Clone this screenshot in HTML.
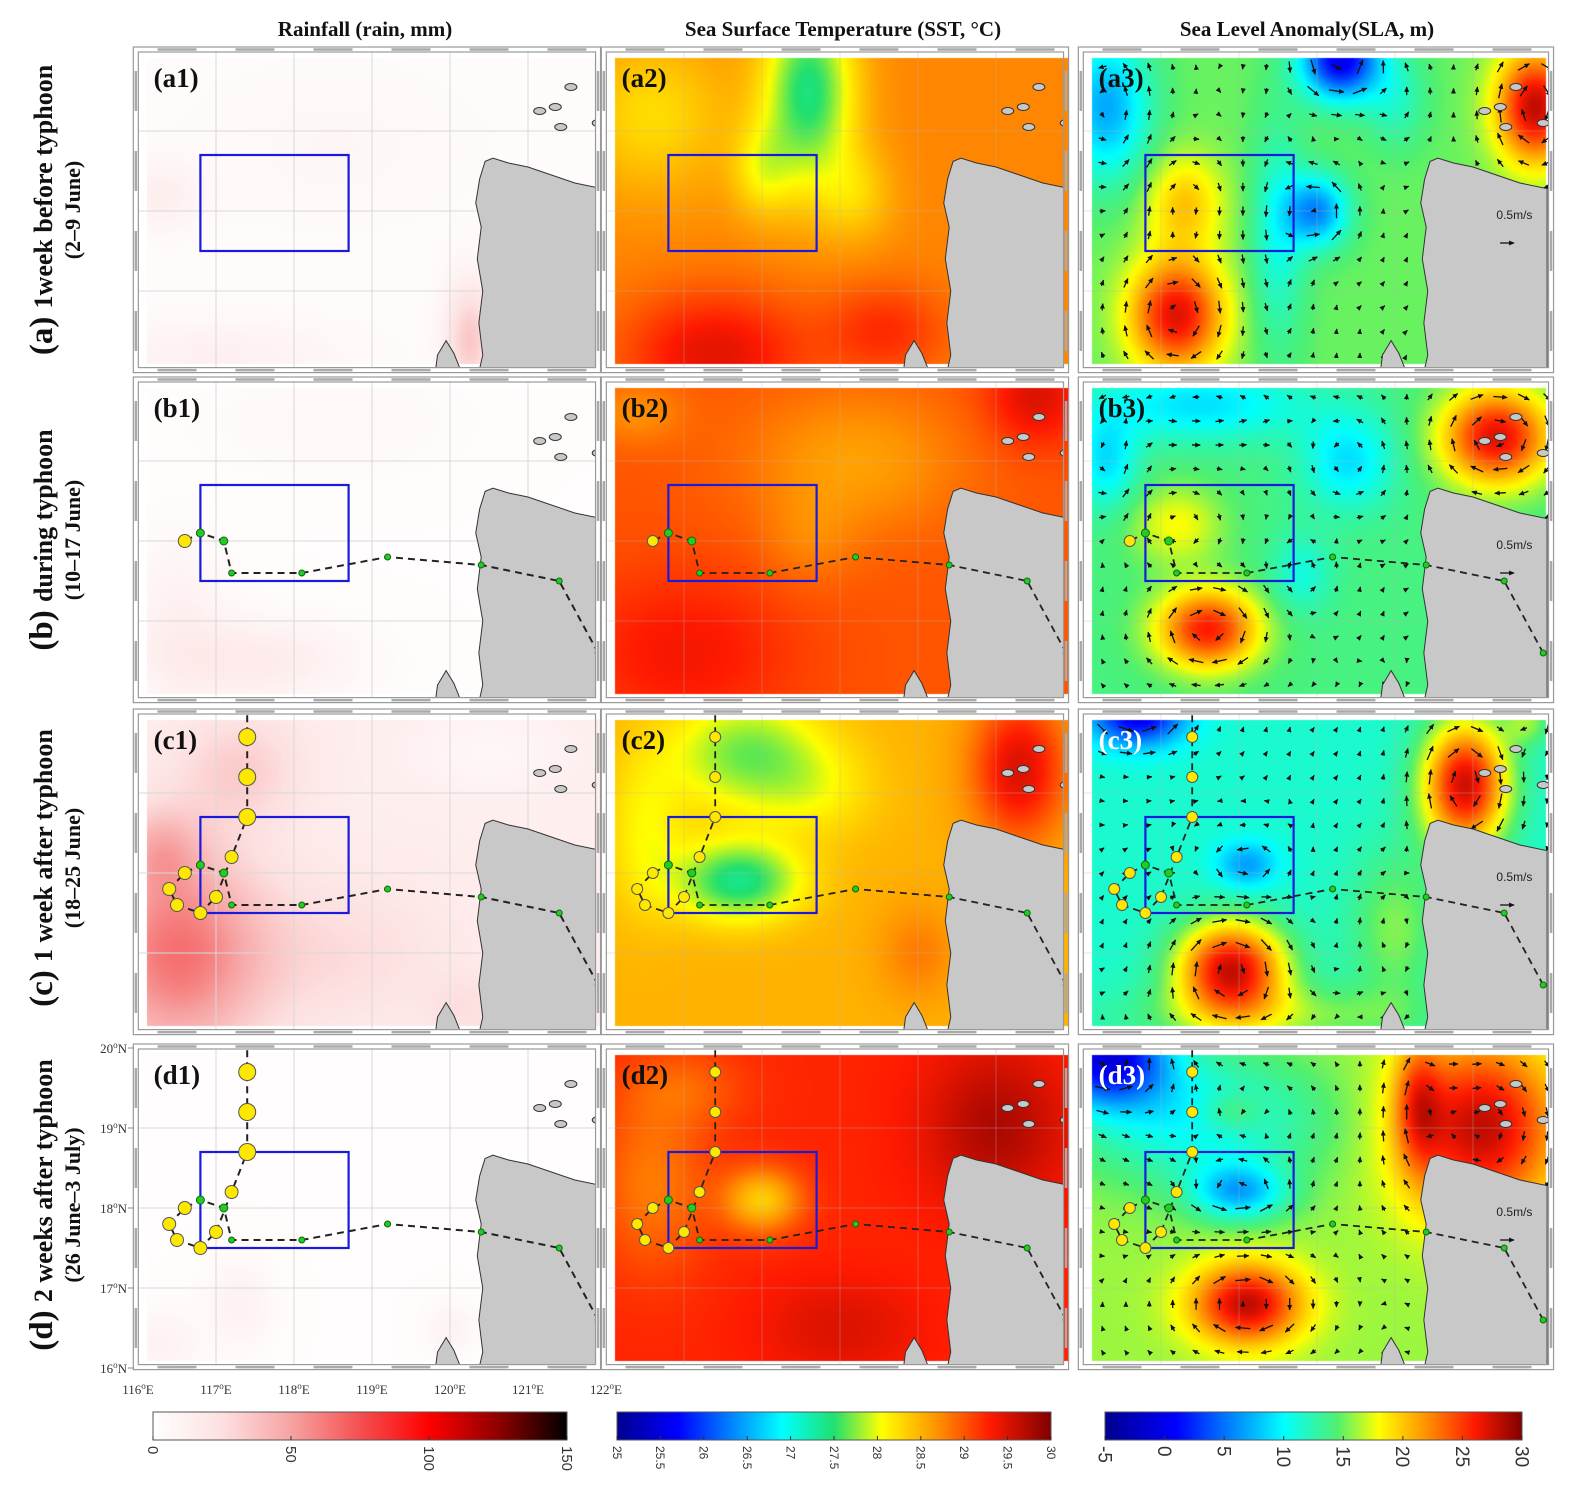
<!DOCTYPE html>
<html><head><meta charset="utf-8">
<style>
html,body{margin:0;padding:0;background:#fff;}
#wrap{position:relative;width:1578px;height:1489px;overflow:hidden;}
#fld{position:absolute;left:0;top:0;}
#ov{position:absolute;left:0;top:0;}
text{font-family:"Liberation Serif",serif;}
</style></head>
<body>
<div id="wrap">
<canvas id="fld" width="1578" height="1489"></canvas>
<svg id="ov" width="1578" height="1489" xmlns="http://www.w3.org/2000/svg">
<defs>
<marker id="ah" markerWidth="6" markerHeight="6" refX="5" refY="3" orient="auto" markerUnits="userSpaceOnUse"><path d="M0,0.5 L5.5,3 L0,5.5 z" fill="#111"/></marker>
</defs>
<g id="layer"></g>
</svg>
</div>
<script>
// ---------- data ----------
const colX0 = [138, 606, 1083];
const rowY0 = [51, 381, 713, 1048];
const columnTitles = ["Rainfall (rain, mm)", "Sea Surface Temperature (SST, \u00B0C)", "Sea  Level Anomaly(SLA, m)"];
const rowTitles = ["1week before typhoon", "during typhoon", "1 week after typhoon", "2 weeks after typhoon"];
const rowLetters = ["(a)", "(b)", "(c)", "(d)"];
const rowDates = ["(2\u20139 June)", "(10\u201317 June)", "(18\u201325 June)", "(26 June\u20133 July)"];
const lonTicks = [116, 117, 118, 119, 120, 121, 122];
const latTicks = [16, 17, 18, 19, 20];
const rainTicks = [0, 50, 100, 150];
const sstTicks = [25, 25.5, 26, 26.5, 27, 27.5, 28, 28.5, 29, 29.5, 30];
const slaTicks = [-5, 0, 5, 10, 15, 20, 25, 30];
// typhoon track (east -> west -> north)
const trackLon = [121.9, 121.4, 120.4, 119.2, 118.1, 117.2, 117.1, 116.8, 116.6, 116.4, 116.5, 116.8, 117.0, 117.2, 117.4, 117.4, 117.4];
const trackLat = [16.6, 17.5, 17.7, 17.8, 17.6, 17.6, 18.0, 18.1, 18.0, 17.8, 17.6, 17.5, 17.7, 18.2, 18.7, 19.2, 19.7];
const trackKind = ["g","g","g","g","g","g","g","g","y","y","y","y","y","y","y","y","y"];
const trackCount = [0, 9, 17, 17];
// study box
const boxLon = [116.8, 118.7];
const boxLat = [17.5, 18.7];
// field bases: index col*4+row
const fieldBase = [3, 2, 14, 2, 28.75, 29.0, 28.5, 29.25, 15, 14, 11.5, 16];
// blobs: [lon, lat, sx, sy, amplitude]
const blobs0 = [[120.25,16.4,0.3,0.7,32],[116.3,18.2,0.5,0.4,10],[117.0,16.2,1.5,0.4,9],[118.5,18.8,1.5,0.8,4]];
const blobs1 = [[117.5,16.5,1.2,0.5,14],[116.5,17.0,0.6,1.0,9],[118.5,19.5,1.5,0.6,4]];
const blobs2 = [[116.5,17.0,1.1,1.3,50],[117.3,19.3,0.8,0.7,18],[118.6,17.0,1.4,0.9,12],[116.3,18.3,0.5,0.5,20],[120.2,16.3,0.5,0.4,10],[120.5,19.5,1.0,0.5,-8]];
const blobs3 = [[117.3,16.8,0.4,0.5,9],[120.0,16.5,0.3,0.3,8],[116.3,16.3,0.5,0.4,8]];
const blobs4 = [[118.6,19.5,0.6,1.2,-1.3],[118.0,18.5,0.4,0.6,-0.5],[116.6,19.2,1.0,1.0,-0.5],[117.4,16.2,1.2,0.8,0.7],[119.6,16.5,0.8,0.6,0.45],[119.2,18.2,0.5,0.6,-0.4]];
const blobs5 = [[117.0,16.6,1.4,1.0,0.35],[121.5,19.8,0.6,0.6,0.5],[119.2,19.0,1.4,0.9,-0.4],[118.6,18.0,0.6,0.6,-0.2],[116.4,19.6,0.6,0.4,-0.3]];
const blobs6 = [[117.7,17.9,0.8,0.5,-1.1],[117.8,19.5,1.0,0.7,-0.8],[121.3,19.3,0.6,0.9,1.0],[120.0,17.0,0.5,0.6,0.3],[116.5,18.5,0.5,1.0,-0.4],[118.7,19.0,0.8,0.6,-0.3]];
const blobs7 = [[118.0,18.1,0.5,0.4,-0.9],[116.6,18.3,0.7,1.1,-0.45],[117.0,19.5,0.8,0.5,-0.3],[121.0,19.0,0.9,1.0,0.5],[119.0,16.5,1.0,0.6,0.25]];
const blobs8 = [[119.3,19.9,0.5,0.5,-15],[119.0,18.0,0.4,0.45,-9],[116.3,19.3,0.55,0.9,-8],[117.2,16.7,0.6,0.7,12],[117.3,18.1,0.5,0.6,5],[121.8,19.3,0.5,0.7,13],[118.5,17.7,0.35,1.4,-4],[120.0,19.4,0.4,0.6,-3]];
const blobs9 = [[117.5,19.7,1.4,0.45,-5],[119.4,19.0,0.6,0.6,-5],[117.6,16.9,0.65,0.5,12],[121.3,19.3,0.7,0.6,13],[117.2,18.2,0.6,0.5,4],[118.8,17.6,0.4,0.5,-3],[116.3,19.0,0.4,0.6,-5]];
const blobs10 = [[116.7,20.0,0.6,0.4,-12],[118.1,18.1,0.4,0.3,-5],[117.9,16.8,0.7,0.6,16],[120.9,19.1,0.55,0.8,16],[118.5,16.2,2.0,0.4,4],[120.0,17.3,0.6,1.0,4],[121.7,19.9,0.3,0.3,4]];
const blobs11 = [[116.3,19.9,0.8,0.6,-16],[117.5,19.1,1.5,0.8,-6],[118.0,18.2,0.6,0.35,-8],[118.1,16.8,0.7,0.5,12],[121.1,19.0,1.0,1.1,12],[120.3,19.3,0.3,0.8,6],[117.9,19.2,0.4,0.25,3]];
const allBlobs = [blobs0,blobs1,blobs2,blobs3,blobs4,blobs5,blobs6,blobs7,blobs8,blobs9,blobs10,blobs11];
// land outline (lon, lat)
const landLon = [120.45,120.55,120.75,121.0,121.3,121.6,121.95,121.95,120.35,120.42,120.37,120.42,120.35,120.4,120.33,120.38];
const landLat = [18.62,18.66,18.6,18.55,18.45,18.35,18.28,15.9,15.9,16.2,16.6,17.0,17.4,17.8,18.1,18.4];
const penLon = [119.8,119.84,119.95,120.05,120.12,120.15];
const penLat = [15.9,16.2,16.38,16.22,16.05,15.9];
const islandLon = [121.55,121.35,121.42,121.9,121.15];
const islandLat = [19.55,19.3,19.05,19.1,19.25];

// colormaps
const rainStops = [[0,"#ffffff"],[25,"#fde0e0"],[50,"#f7a3a3"],[75,"#f45050"],[100,"#ff0000"],[125,"#900000"],[150,"#000000"]];
const sstStops = [[25,"#00008f"],[25.7,"#0000ff"],[26.9,"#00ffff"],[27.5,"#20e070"],[28.05,"#ffff00"],[28.7,"#ff9000"],[29.3,"#ff1a00"],[30,"#800000"]];
const slaStops = [[-5,"#00008f"],[1,"#0000ff"],[10,"#00ffff"],[14.5,"#50f070"],[18,"#ffff00"],[22,"#ff9000"],[26,"#ff1a00"],[30,"#800000"]];
const cmaps = [rainStops, sstStops, slaStops];

// ---------- helpers ----------
const NS = "http://www.w3.org/2000/svg";
const layer = document.getElementById("layer");
function X(c, lon){ return colX0[c] + (lon-116)*78; }
function Y(r, lat){ return rowY0[r] + (20-lat)*80; }
function mk(tag, attrs, parent){ const e=document.createElementNS(NS,tag); for(const k in attrs) e.setAttribute(k,attrs[k]); (parent||layer).appendChild(e); return e; }
function hex(h){ return [parseInt(h.substr(1,2),16),parseInt(h.substr(3,2),16),parseInt(h.substr(5,2),16)]; }
function cmap(stops, v){
  if(v<=stops[0][0]) return hex(stops[0][1]);
  for(let i=1;i<stops.length;i++){
    if(v<=stops[i][0]){ const t=(v-stops[i-1][0])/(stops[i][0]-stops[i-1][0]); const a=hex(stops[i-1][1]), b=hex(stops[i][1]);
      return [a[0]+(b[0]-a[0])*t, a[1]+(b[1]-a[1])*t, a[2]+(b[2]-a[2])*t]; }
  }
  return hex(stops[stops.length-1][1]);
}
function fieldVal(p, lon, lat){
  let v = fieldBase[p];
  for(const b of allBlobs[p]){ const dx=(lon-b[0])/b[2], dy=(lat-b[1])/b[3]; v += b[4]*Math.exp(-(dx*dx+dy*dy)); }
  return v;
}
function inPoly(lon, lat, xs, ys){
  let ins=false;
  for(let i=0,j=xs.length-1;i<xs.length;j=i++){
    if(((ys[i]>lat)!==(ys[j]>lat)) && (lon < (xs[j]-xs[i])*(lat-ys[i])/(ys[j]-ys[i])+xs[i])) ins=!ins;
  }
  return ins;
}

// ---------- fields on canvas ----------
const ctx = document.getElementById("fld").getContext("2d");
const LON0=116.12, LON1=121.93, LAT0=16.09, LAT1=19.91;
for(let c=0;c<3;c++) for(let r=0;r<4;r++){
  const p=c*4+r, GW=116, GH=76;
  const off=document.createElement("canvas"); off.width=GW; off.height=GH;
  const oc=off.getContext("2d"); const img=oc.createImageData(GW,GH);
  for(let j=0;j<GH;j++) for(let i=0;i<GW;i++){
    const lon=LON0+(i+0.5)/GW*(LON1-LON0), lat=LAT1-(j+0.5)/GH*(LAT1-LAT0);
    const col=cmap(cmaps[c], fieldVal(p,lon,lat)); const k=(j*GW+i)*4;
    img.data[k]=col[0]; img.data[k+1]=col[1]; img.data[k+2]=col[2]; img.data[k+3]=255;
  }
  oc.putImageData(img,0,0);
  ctx.imageSmoothingEnabled=true;
  const x0=X(c,LON0), y0=Y(r,LAT1);
  ctx.drawImage(off, x0, y0, X(c,LON1)-x0, Y(r,LAT0)-y0);
}

// ---------- headers ----------
const headX=[365, 843, 1307];
for(let c=0;c<3;c++){
  const t=mk("text",{x:headX[c],y:36,"text-anchor":"middle","font-size":"21","font-weight":"bold",fill:"#111"});
  
  
  t.textContent=columnTitles[c];
}
// row titles
const rowCy=[210, 540, 868, 1205];
for(let r=0;r<4;r++){
  const g=mk("g",{transform:"translate(0,"+rowCy[r]+") rotate(-90)"});
  
  
  const t1=mk("text",{x:0,y:52,"text-anchor":"middle","font-size":"26","font-weight":"bold",fill:"#111"},g);
  const s=mk("tspan",{"font-size":"33"},t1); s.textContent=rowLetters[r]+" ";
  const s2=mk("tspan",{},t1); s2.textContent=rowTitles[r];
  const t2=mk("text",{x:0,y:80,"text-anchor":"middle","font-size":"22","font-weight":"bold",fill:"#111"},g);
  t2.textContent=rowDates[r];
}

// ---------- panels ----------
for(let c=0;c<3;c++) for(let r=0;r<4;r++){
  const p=c*4+r;
  const g=mk("g",{});
  
  
  const fx0=X(c,115.94), fx1=X(c,121.93)+(c==2?8:0), fy0=Y(r,20.05), fy1=Y(r,15.98);
  const cid="clip"+p;
  const cp=mk("clipPath",{id:cid},g); mk("rect",{x:fx0+5,y:fy0+5,width:fx1-fx0-10,height:fy1-fy0-10},cp);
  const inner=mk("g",{"clip-path":"url(#"+cid+")"},g);
  for(const lo of lonTicks) mk("line",{x1:X(c,lo),x2:X(c,lo),y1:fy0,y2:fy1,stroke:c==0?"#d8d8d8":"rgba(180,180,180,0.35)","stroke-width":1},inner);
  for(const la of latTicks) mk("line",{x1:fx0,x2:fx1,y1:Y(r,la),y2:Y(r,la),stroke:c==0?"#d8d8d8":"rgba(180,180,180,0.35)","stroke-width":1},inner);
  if(c==2){
    const ag=mk("g",{},inner);
    
    
    for(let lo=116.25; lo<121.95; lo+=0.3) for(let la=16.2; la<20.0; la+=0.3){
      if(inPoly(lo,la,landLon,landLat)) continue;
      const h=0.05;
      const dEx=(fieldVal(p,lo+h,la)-fieldVal(p,lo-h,la))/(2*h);
      const dNy=(fieldVal(p,lo,la+h)-fieldVal(p,lo,la-h))/(2*h);
      const u=-dNy, v=dEx; const m=Math.sqrt(u*u+v*v)+1e-6;
      const L=Math.min(15, 4+m*0.55);
      const cx=X(c,lo), cy=Y(r,la);
      const dx=u/m*L/2, dy=-v/m*L/2;
      mk("line",{x1:cx-dx,y1:cy-dy,x2:cx+dx,y2:cy+dy,stroke:"#111","stroke-width":1.3,"marker-end":"url(#ah)"},ag);
    }
  }
  const pts=landLon.map((lo,i)=>X(c,lo)+","+Y(r,landLat[i])).join(" ");
  const land=mk("polygon",{points:pts,fill:"#c8c8c8",stroke:"#333","stroke-width":1},inner);
  
  
  mk("polygon",{points:penLon.map((lo,i)=>X(c,lo)+","+Y(r,penLat[i])).join(" "),fill:"#c8c8c8",stroke:"#333","stroke-width":1},inner);
  for(let i=0;i<islandLon.length;i++) mk("ellipse",{cx:X(c,islandLon[i]),cy:Y(r,islandLat[i]),rx:6,ry:3.5,fill:"#c8c8c8",stroke:"#333","stroke-width":1},inner);
  const bx=mk("rect",{x:X(c,boxLon[0]),y:Y(r,boxLat[1]),width:X(c,boxLon[1])-X(c,boxLon[0]),height:Y(r,boxLat[0])-Y(r,boxLat[1]),fill:"none",stroke:"#1a1adc","stroke-width":2.2},inner);
  
  
  if(c==2){
    const t=mk("text",{x:X(c,121.3),y:Y(r,17.9),"font-size":"12",fill:"#222"},inner);
    
    
    t.setAttribute("style","font-family:'Liberation Sans',sans-serif");
    t.textContent="0.5m/s";
    mk("line",{x1:X(c,121.45)-8,y1:Y(r,17.6),x2:X(c,121.45)+6,y2:Y(r,17.6),stroke:"#111","stroke-width":1.3,"marker-end":"url(#ah)"},inner);
  }
  const n=trackCount[r];
  if(n>0){
    const tg=mk("g",{},inner);
    
    
    let d="";
    for(let i=0;i<n;i++) d+=(i?"L":"M")+X(c,trackLon[i])+","+Y(r,trackLat[i]);
    if(n==17) d+="L"+X(c,117.4)+","+Y(r,20.05);
    mk("path",{d:d,fill:"none",stroke:"#222","stroke-width":c==0?2:1.8,"stroke-dasharray":"7 5"},tg);
    for(let i=0;i<n;i++){
      const y=trackKind[i]=="y";
      let rad = y ? (c==0 ? (i>=14?8.5:6.5) : 5.5) : (i>=6 && i<=7 ? 4 : 3);
      const cc=mk("circle",{cx:X(c,trackLon[i]),cy:Y(r,trackLat[i]),r:rad,fill:y?"#ffe800":"#22cc22",stroke:y?"#555":"#116611","stroke-width":1},tg);
      
      
    }
  }
  mk("rect",{x:fx0,y:fy0,width:fx1-fx0,height:fy1-fy0,fill:"none",stroke:"#999","stroke-width":1.2},g);
  mk("rect",{x:fx0+5,y:fy0+5,width:fx1-fx0-10,height:fy1-fy0-10,fill:"none",stroke:"#999","stroke-width":1.2},g);
  for(let lo=116.5;lo<122;lo+=1){ mk("line",{x1:X(c,lo-0.25),x2:X(c,lo+0.25),y1:fy0+2.5,y2:fy0+2.5,stroke:"#aaa","stroke-width":2.5},g); mk("line",{x1:X(c,lo-0.25),x2:X(c,lo+0.25),y1:fy1-2.5,y2:fy1-2.5,stroke:"#aaa","stroke-width":2.5},g); }
  for(let la=16.5;la<20;la+=1){ mk("line",{x1:fx0+2.5,x2:fx0+2.5,y1:Y(r,la+0.25),y2:Y(r,la-0.25),stroke:"#aaa","stroke-width":2.5},g); mk("line",{x1:fx1-2.5,x2:fx1-2.5,y1:Y(r,la+0.25),y2:Y(r,la-0.25),stroke:"#aaa","stroke-width":2.5},g); }
  const lab=mk("text",{x:X(c,116.2),y:Y(r,19.55),"font-size":"27","font-weight":"bold",fill:(c==2&&r>=2)?"#fff":"#111"},g);
  
  
  lab.textContent="("+"abcd"[r]+(c+1)+")";
}

// ---------- axis tick labels (d1) ----------
for(const la of latTicks){
  const t=mk("text",{x:127,y:Y(3,la)+5,"text-anchor":"end","font-size":"13",fill:"#333"});
  
  
  t.textContent=la; const s=mk("tspan",{dy:"-5","font-size":"9"},t); s.textContent="o"; const s2=mk("tspan",{dy:"5"},t); s2.textContent="N";
  mk("line",{x1:128,x2:134,y1:Y(3,la),y2:Y(3,la),stroke:"#888"});
}
for(const lo of lonTicks){
  const t=mk("text",{x:X(0,lo),y:1394,"text-anchor":"middle","font-size":"13",fill:"#333"});
  
  
  t.textContent=lo; const s=mk("tspan",{dy:"-5","font-size":"9"},t); s.textContent="o"; const s2=mk("tspan",{dy:"5"},t); s2.textContent="E";
}

// ---------- colorbars ----------
const cbX=[[153,567],[617,1051],[1105,1522]];
const cbTicks=[rainTicks, sstTicks, slaTicks];
const cbFont=[15,12,19];
const defs=document.querySelector("defs");
for(let c=0;c<3;c++){
  const st=cmaps[c], v0=st[0][0], v1=st[st.length-1][0];
  const lg=mk("linearGradient",{id:"cb"+c,x1:"0",x2:"1",y1:"0",y2:"0"},defs);
  for(const s of st) mk("stop",{offset:((s[0]-v0)/(v1-v0)),"stop-color":s[1]},lg);
  const g=mk("g",{});
  
  
  mk("rect",{x:cbX[c][0],y:1412,width:cbX[c][1]-cbX[c][0],height:28,fill:"url(#cb"+c+")",stroke:"#555","stroke-width":1},g);
  for(const v of cbTicks[c]){
    const x=cbX[c][0]+(v-v0)/(v1-v0)*(cbX[c][1]-cbX[c][0]);
    mk("line",{x1:x,x2:x,y1:1436,y2:1440,stroke:"#333"},g);
    const t=mk("text",{x:0,y:0,transform:"translate("+(x-cbFont[c]*0.35)+",1446) rotate(90)","font-size":cbFont[c],fill:"#333"},g);
    t.setAttribute("style","font-family:'Liberation Sans',sans-serif");
    t.textContent=v;
  }
}
</script>
</body></html>
